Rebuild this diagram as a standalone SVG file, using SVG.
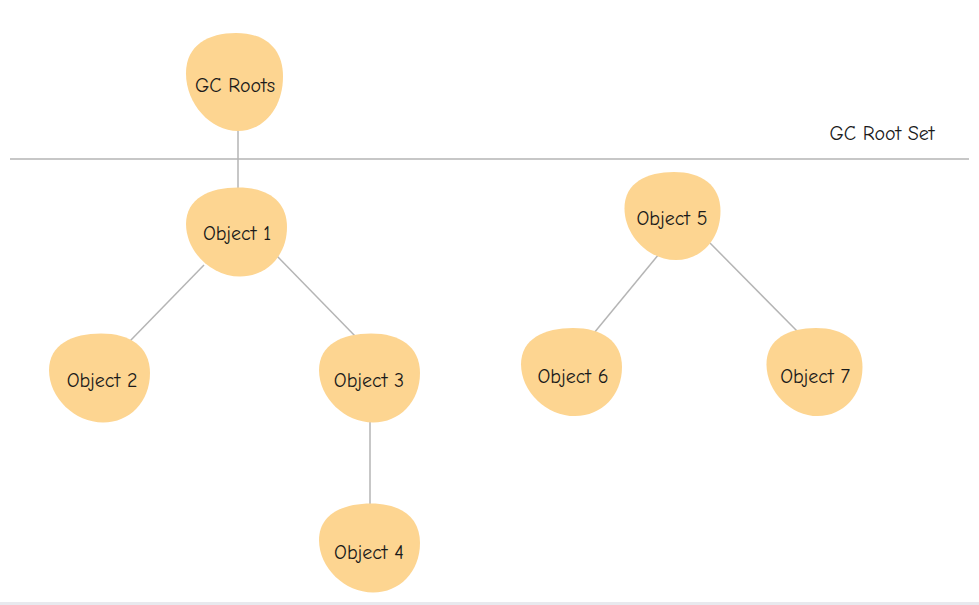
<svg xmlns="http://www.w3.org/2000/svg" xmlns:xlink="http://www.w3.org/1999/xlink" width="979" height="605" viewBox="0 0 979 605">
<style>
.blob{fill:#FDD591;}
.lbl{font-family:"Comic Neue","Liberation Sans",sans-serif;font-size:20px;fill:#1a1a1a;text-anchor:middle;dominant-baseline:central;}
.edge{stroke:#b5b5b5;stroke-width:1.5;fill:none;}
</style>
<defs>
<path id="blob" d="M -49,-8 C -49,-34 -26,-45 2,-45 C 30,-45 50,-32 50,-5 C 50,24 30,45 4,45 C -24,45 -49,20 -49,-8 Z"/>
</defs>
<rect x="0" y="0" width="979" height="605" fill="#ffffff"/>
<rect x="0" y="602" width="979" height="3" fill="#E8E9EE"/>
<g id="connectors">
<line class="edge" x1="10" y1="159" x2="969" y2="159"/>
<line class="edge" x1="238" y1="128" x2="238" y2="190"/>
<line class="edge" x1="204" y1="265" x2="130" y2="341"/>
<line class="edge" x1="276" y1="255" x2="356" y2="337"/>
<line class="edge" x1="370" y1="420" x2="370" y2="505"/>
<line class="edge" x1="659" y1="254" x2="594" y2="333"/>
<line class="edge" x1="710" y1="243" x2="797" y2="331"/>
</g>
<text class="lbl" x="882" y="133">GC Root Set</text>
<g id="gc-roots"><use href="#blob" class="blob" transform="translate(234,82) scale(0.98,1.09)"/><text class="lbl" x="235" y="85">GC Roots</text></g>
<g id="object-1"><use href="#blob" class="blob" transform="translate(236,232) scale(1.02,0.99)"/><text class="lbl" x="237" y="233">Object 1</text></g>
<g id="object-2"><use href="#blob" class="blob" transform="translate(99,378) scale(1.02,0.99)"/><text class="lbl" x="102" y="380">Object 2</text></g>
<g id="object-3"><use href="#blob" class="blob" transform="translate(369,378) scale(1.02,0.99)"/><text class="lbl" x="369" y="380">Object 3</text></g>
<g id="object-4"><use href="#blob" class="blob" transform="translate(369,548) scale(1.02,0.99)"/><text class="lbl" x="369" y="552">Object 4</text></g>
<g id="object-5"><use href="#blob" class="blob" transform="translate(672,216) scale(0.97,0.98)"/><text class="lbl" x="672" y="218">Object 5</text></g>
<g id="object-6"><use href="#blob" class="blob" transform="translate(571,372) scale(1.02,0.98)"/><text class="lbl" x="573" y="376">Object 6</text></g>
<g id="object-7"><use href="#blob" class="blob" transform="translate(814,372) scale(0.97,0.98)"/><text class="lbl" x="815" y="376">Object 7</text></g>
</svg>
